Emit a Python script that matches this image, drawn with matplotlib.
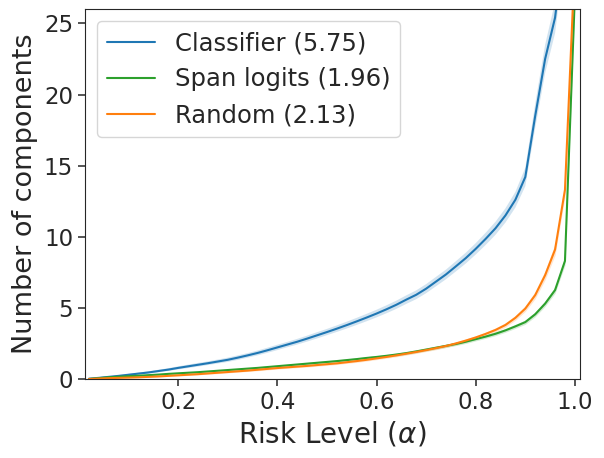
import numpy as np
import matplotlib
matplotlib.use("Agg")
import matplotlib.pyplot as plt
import seaborn as sns

sns.set_style("ticks")

alphas = [0.02, 0.04, 0.06, 0.08, 0.10, 0.12, 0.14, 0.16, 0.18, 0.20,
          0.22, 0.24, 0.26, 0.28, 0.30, 0.32, 0.34, 0.36, 0.38, 0.40,
          0.42, 0.44, 0.46, 0.48, 0.50, 0.52, 0.54, 0.56, 0.58, 0.60,
          0.62, 0.64, 0.66, 0.68, 0.70, 0.72, 0.74, 0.76, 0.78, 0.80,
          0.82, 0.84, 0.86, 0.88, 0.90, 0.92, 0.94, 0.96, 0.98, 1.00]

classifier = [0.02, 0.08, 0.15, 0.22, 0.30, 0.38, 0.46, 0.56, 0.66, 0.78,
              0.89, 1.00, 1.11, 1.23, 1.35, 1.50, 1.66, 1.83, 2.02, 2.22,
              2.42, 2.62, 2.84, 3.07, 3.30, 3.54, 3.79, 4.05, 4.32, 4.60,
              4.90, 5.22, 5.58, 5.92, 6.35, 6.85, 7.35, 7.92, 8.50, 9.15,
              9.85, 10.6, 11.5, 12.6, 14.2, 18.5, 22.5, 25.4, 31.0, 36.0]
classifier_sd = [0.02, 0.03, 0.04, 0.05, 0.06, 0.07, 0.08, 0.09, 0.10, 0.11,
                 0.12, 0.13, 0.13, 0.14, 0.15, 0.16, 0.16, 0.17, 0.18, 0.19,
                 0.19, 0.20, 0.21, 0.22, 0.22, 0.23, 0.24, 0.25, 0.26, 0.27,
                 0.28, 0.29, 0.30, 0.31, 0.32, 0.33, 0.34, 0.36, 0.38, 0.40,
                 0.43, 0.46, 0.50, 0.55, 0.65, 0.85, 1.00, 1.10, 1.20, 1.20]

span_logits = [0.00, 0.06, 0.12, 0.16, 0.20, 0.23, 0.27, 0.31, 0.36, 0.40,
               0.44, 0.48, 0.53, 0.58, 0.63, 0.68, 0.73, 0.78, 0.84, 0.90,
               0.96, 1.02, 1.08, 1.14, 1.20, 1.26, 1.33, 1.40, 1.48, 1.55,
               1.63, 1.72, 1.82, 1.94, 2.07, 2.20, 2.33, 2.46, 2.62, 2.80,
               2.98, 3.18, 3.42, 3.70, 4.00, 4.55, 5.30, 6.25, 8.30, 27.0]
span_logits_sd = [0.01, 0.02, 0.02, 0.03, 0.03, 0.03, 0.04, 0.04, 0.04, 0.05,
                  0.05, 0.05, 0.05, 0.06, 0.06, 0.06, 0.06, 0.07, 0.07, 0.07,
                  0.07, 0.07, 0.08, 0.08, 0.08, 0.08, 0.08, 0.09, 0.09, 0.09,
                  0.09, 0.10, 0.10, 0.10, 0.10, 0.11, 0.11, 0.11, 0.12, 0.12,
                  0.12, 0.13, 0.13, 0.14, 0.15, 0.17, 0.19, 0.22, 0.30, 0.50]

random_ = [0.00, 0.03, 0.06, 0.08, 0.10, 0.12, 0.15, 0.18, 0.22, 0.26,
           0.30, 0.34, 0.39, 0.44, 0.49, 0.54, 0.59, 0.65, 0.71, 0.77,
           0.82, 0.87, 0.92, 0.98, 1.04, 1.10, 1.18, 1.26, 1.35, 1.45,
           1.55, 1.66, 1.78, 1.90, 2.03, 2.17, 2.32, 2.50, 2.70, 2.92,
           3.17, 3.45, 3.80, 4.30, 4.95, 5.90, 7.30, 9.10, 13.3, 29.5]
random_sd = [0.01, 0.02, 0.02, 0.03, 0.03, 0.03, 0.04, 0.04, 0.04, 0.05,
             0.05, 0.05, 0.05, 0.06, 0.06, 0.06, 0.06, 0.07, 0.07, 0.07,
             0.07, 0.07, 0.08, 0.08, 0.08, 0.08, 0.08, 0.09, 0.09, 0.09,
             0.09, 0.10, 0.10, 0.10, 0.10, 0.11, 0.11, 0.11, 0.12, 0.12,
             0.13, 0.14, 0.15, 0.17, 0.20, 0.25, 0.32, 0.40, 0.50, 0.60]

series = [
    ("Classifier (5.75)", classifier, classifier_sd, "tab:blue"),
    ("Span logits (1.96)", span_logits, span_logits_sd, "tab:green"),
    ("Random (2.13)", random_, random_sd, "tab:orange"),
]

fig = plt.figure(figsize=(6.04, 4.58), dpi=100)
ax = fig.add_axes([0.1407, 0.1725, 0.8193, 0.8075])

x = np.array(alphas)
for label, vals, sd, color in series:
    y = np.array(vals)
    s = np.array(sd)
    ax.plot(x, y, color=color, lw=1.5, label=label)
    ax.fill_between(x, y - s, y + s, color=color, alpha=0.2, lw=0)

ax.set_xlim(0.012, 1.010)
ax.set_ylim(0, 26)
ax.set_xticks([0.2, 0.4, 0.6, 0.8, 1.0])
ax.set_yticks([0, 5, 10, 15, 20, 25])
ax.tick_params(labelsize=16.5, length=5, width=1.1)
ax.set_xlabel(r"Risk Level ($\alpha$)", fontsize=20)
ax.set_ylabel("Number of components", fontsize=19.5)
ax.legend(loc="upper left", fontsize=17.5)

fig.savefig("out.png", dpi=100)
